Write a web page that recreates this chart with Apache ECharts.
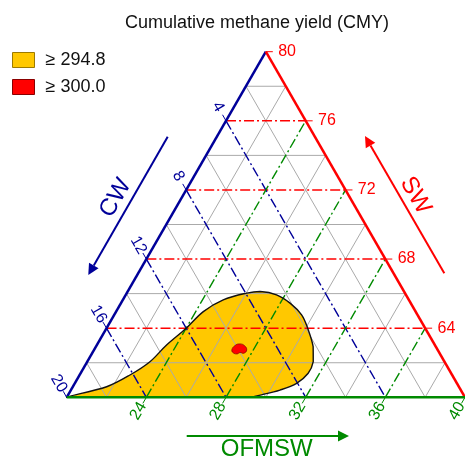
<!DOCTYPE html>
<html>
<head>
<meta charset="utf-8">
<script src="https://cdn.jsdelivr.net/npm/echarts@6/dist/echarts.min.js"></script>
<style>
  html, body { margin: 0; padding: 0; background: #ffffff; }
  #chart { width: 465px; height: 459px; }
</style>
</head>
<body>
<div id="chart"></div>
<script>
// Labelled ticks (%) of the three mixture components; SW + CW + OFMSW = 100
const swTicks = [64, 68, 72, 76, 80];
const cwTicks = [4, 8, 12, 16, 20];
const ofmswTicks = [24, 28, 32, 36, 40];
// Thin grid lines between the labelled ticks
const swMinor = [62, 66, 70, 74, 78];
const cwMinor = [2, 6, 10, 14, 18];
const ofmswMinor = [22, 26, 30, 34, 38];

// CMY >= 294.8 region, boundary as (OFMSW, SW) pairs, starting at the CW corner
const regionOFMSW = [20.00, 21.70, 22.53, 23.15, 23.50, 24.00, 24.38, 25.04, 26.03, 26.65, 27.57,
                     28.49, 29.41, 30.10, 30.91, 31.35, 31.43, 31.14, 30.50, 29.78, 29.10, 24.50];
const regionSW = [60.00, 60.61, 61.29, 62.06, 63.03, 64.00, 64.96, 65.64, 66.03, 66.12, 65.93,
                  65.45, 64.77, 64.00, 62.93, 62.06, 61.39, 60.81, 60.42, 60.17, 60.00, 60.00];

// CMY >= 300.0 spot
const peakOFMSW = [26.92, 26.95, 27.15, 27.46, 27.67, 27.62, 27.41, 27.29, 27.05];
const peakSW = [62.74, 62.99, 63.09, 62.97, 62.74, 62.55, 62.59, 62.51, 62.59];

const NAVY = '#000099';
const RED = '#ff0000';
const GREEN = '#008a00';
const GOLD = '#ffc800';
const FONT = '"Liberation Sans", Arial, Helvetica, sans-serif';

// Ternary (OFMSW, SW) -> plane: x runs along the OFMSW base, y is SW
function toXY(o, sw) { return [o + (sw - 60) / 2, sw]; }

// Segment builders in ternary terms
function swLine(s) { return [toXY(20, s), toXY(100 - s, s)]; }
function cwLine(c) { return [toXY(20, 80 - c), toXY(40 - c, 60)]; }
function ofLine(o) { return [toXY(o, 60), toXY(o, 100 - o)]; }
// points just outside each edge, along the extension of the grid line
function swOut(s, t) { return toXY(100 - s + t, s); }
function cwOut(c, t) { return toXY(20 - t, 80 - c + t); }
function ofOut(o, t) { return toXY(o, 60 - t); }

function flat(seg) { return [seg[0][0], seg[0][1], seg[1][0], seg[1][1]]; }

function segmentSeries(segs, style, z) {
  return {
    type: 'custom',
    coordinateSystem: 'cartesian2d',
    silent: true,
    clip: false,
    z: z,
    data: segs.map(flat),
    renderItem: function (params, api) {
      const p1 = api.coord([api.value(0), api.value(1)]);
      const p2 = api.coord([api.value(2), api.value(3)]);
      return {
        type: 'line',
        shape: { x1: p1[0], y1: p1[1], x2: p2[0], y2: p2[1] },
        style: style
      };
    }
  };
}

function labelSeries(ticks, place, textStyle, rotation, z) {
  return {
    type: 'custom',
    coordinateSystem: 'cartesian2d',
    silent: true,
    clip: false,
    z: z,
    data: ticks.map(function (v) { return place(v); }),
    renderItem: function (params, api) {
      const p = api.coord([api.value(0), api.value(1)]);
      return {
        type: 'text',
        x: p[0], y: p[1],
        rotation: rotation,
        style: Object.assign({ text: String(ticks[params.dataIndex]) }, textStyle)
      };
    }
  };
}

function areaSeries(name, os, sws, smooth, fill, stroke, lineWidth, z) {
  return {
    type: 'custom',
    name: name,
    coordinateSystem: 'cartesian2d',
    silent: true,
    clip: false,
    z: z,
    itemStyle: { color: fill === 'none' ? stroke : fill },
    data: [[os[0], sws[0]]],
    renderItem: function (params, api) {
      const pts = os.map(function (o, i) { return api.coord(toXY(o, sws[i])); });
      return {
        type: 'polygon',
        shape: { points: pts, smooth: smooth,
                 smoothConstraint: [[Infinity, Infinity], [-Infinity, -Infinity]] },
        style: { fill: fill, stroke: stroke, lineWidth: lineWidth }
      };
    }
  };
}

const dashDot = [10, 3, 2, 3];
const minorSegs = [].concat(swMinor.map(swLine), cwMinor.map(cwLine), ofmswMinor.map(ofLine));

const edges = {
  cw: [toXY(20, 60), toXY(20, 80)],
  sw: [toXY(20, 80), toXY(40, 60)],
  of: [toXY(20, 60), toXY(40, 60)]
};

const tickLen = 0.35;
const series = [
  areaSeries('≥ 294.8', regionOFMSW, regionSW, 0.35, GOLD, 'none', 0, 1),
  segmentSeries(minorSegs, { stroke: '#aaaaaa', lineWidth: 1 }, 2),
  segmentSeries(swTicks.filter(function (s) { return s < 80; }).map(swLine),
    { stroke: RED, lineWidth: 1.4, lineDash: dashDot }, 3),
  segmentSeries(cwTicks.filter(function (c) { return c < 20; }).map(cwLine),
    { stroke: NAVY, lineWidth: 1.4, lineDash: dashDot }, 3),
  segmentSeries(ofmswTicks.filter(function (o) { return o < 40; }).map(ofLine),
    { stroke: GREEN, lineWidth: 1.4, lineDash: dashDot }, 3),
  areaSeries('region-outline', regionOFMSW, regionSW, 0.35, 'none', '#111111', 1.4, 4),
  areaSeries('≥ 300.0', peakOFMSW, peakSW, 0.5, RED, '#7a0000', 0.7, 5),
  // triangle edges
  segmentSeries([edges.cw], { stroke: NAVY, lineWidth: 2.5 }, 6),
  segmentSeries([edges.sw], { stroke: RED, lineWidth: 2.5 }, 6),
  segmentSeries([edges.of], { stroke: GREEN, lineWidth: 2.5 }, 6),
  // ticks
  segmentSeries(swTicks.map(function (s) { return [swOut(s, 0), swOut(s, tickLen)]; }),
    { stroke: RED, lineWidth: 1 }, 6),
  segmentSeries(cwTicks.map(function (c) { return [cwOut(c, 0), cwOut(c, tickLen)]; }),
    { stroke: NAVY, lineWidth: 1 }, 6),
  segmentSeries(ofmswTicks.map(function (o) { return [ofOut(o, 0), ofOut(o, tickLen)]; }),
    { stroke: GREEN, lineWidth: 1 }, 6),
  // tick labels
  labelSeries(swTicks, function (s) { return swOut(s, 0.62); },
    { fill: RED, font: '16px ' + FONT, align: 'left', verticalAlign: 'middle' }, 0, 7),
  labelSeries(cwTicks, function (c) { return cwOut(c, 0.8); },
    { fill: NAVY, font: '16px ' + FONT, align: 'center', verticalAlign: 'middle' }, -Math.PI / 3, 7),
  labelSeries(ofmswTicks, function (o) { return ofOut(o, 0.8); },
    { fill: GREEN, font: '16px ' + FONT, align: 'center', verticalAlign: 'middle' }, Math.PI / 3, 7)
];

function arrow(x1, y1, x2, y2, color) {
  const dx = x2 - x1, dy = y2 - y1;
  const len = Math.sqrt(dx * dx + dy * dy);
  const ux = dx / len, uy = dy / len;
  const head = 11, half = 5.5;
  const bx = x2 - ux * head, by = y2 - uy * head;
  return [
    { type: 'line', silent: true, shape: { x1: x1, y1: y1, x2: bx, y2: by },
      style: { stroke: color, lineWidth: 2 } },
    { type: 'polygon', silent: true,
      shape: { points: [[x2, y2], [bx - uy * half, by + ux * half], [bx + uy * half, by - ux * half]] },
      style: { fill: color } }
  ];
}

const option = {
  animation: false,
  backgroundColor: '#ffffff',
  title: {
    text: 'Cumulative methane yield (CMY)',
    left: 120, top: 9,
    textStyle: { fontFamily: FONT, fontSize: 18, fontWeight: 'normal', color: '#111111' }
  },
  legend: {
    orient: 'vertical',
    left: 12, top: 51,
    padding: 0,
    itemWidth: 22, itemHeight: 15, itemGap: 9,
    selectedMode: false,
    data: [
      { name: '≥ 294.8', icon: 'rect', itemStyle: { color: GOLD, borderColor: '#9c7a00', borderWidth: 1 } },
      { name: '≥ 300.0', icon: 'rect', itemStyle: { color: RED, borderColor: '#8a0000', borderWidth: 1 } }
    ],
    textStyle: { fontFamily: FONT, fontSize: 18, color: '#111111', padding: [0, 0, 0, 6] }
  },
  grid: { left: 66.7, top: 51.7, width: 399, height: 345.6, containLabel: false },
  xAxis: { type: 'value', min: 20, max: 40, show: false },
  yAxis: { type: 'value', min: 60, max: 80, show: false },
  series: series,
  graphic: [].concat(
    arrow(167.7, 136.7, 88.3, 275, NAVY),
    arrow(444.3, 273.3, 365, 136, RED),
    arrow(186.7, 436, 349, 436, GREEN),
    [
      { type: 'text', x: 115.5, y: 198, rotation: Math.PI / 3, silent: true,
        style: { text: 'CW', fill: NAVY, font: '24px ' + FONT, align: 'center', verticalAlign: 'middle' } },
      { type: 'text', x: 415.5, y: 195.5, rotation: -Math.PI / 3, silent: true,
        style: { text: 'SW', fill: RED, font: '24px ' + FONT, align: 'center', verticalAlign: 'middle' } },
      { type: 'text', x: 266.7, y: 449, silent: true,
        style: { text: 'OFMSW', fill: GREEN, font: '24px ' + FONT, align: 'center', verticalAlign: 'middle' } }
    ]
  )
};

const chart = echarts.init(document.getElementById('chart'), null, { renderer: 'canvas' });
chart.setOption(option);
</script>
</body>
</html>
